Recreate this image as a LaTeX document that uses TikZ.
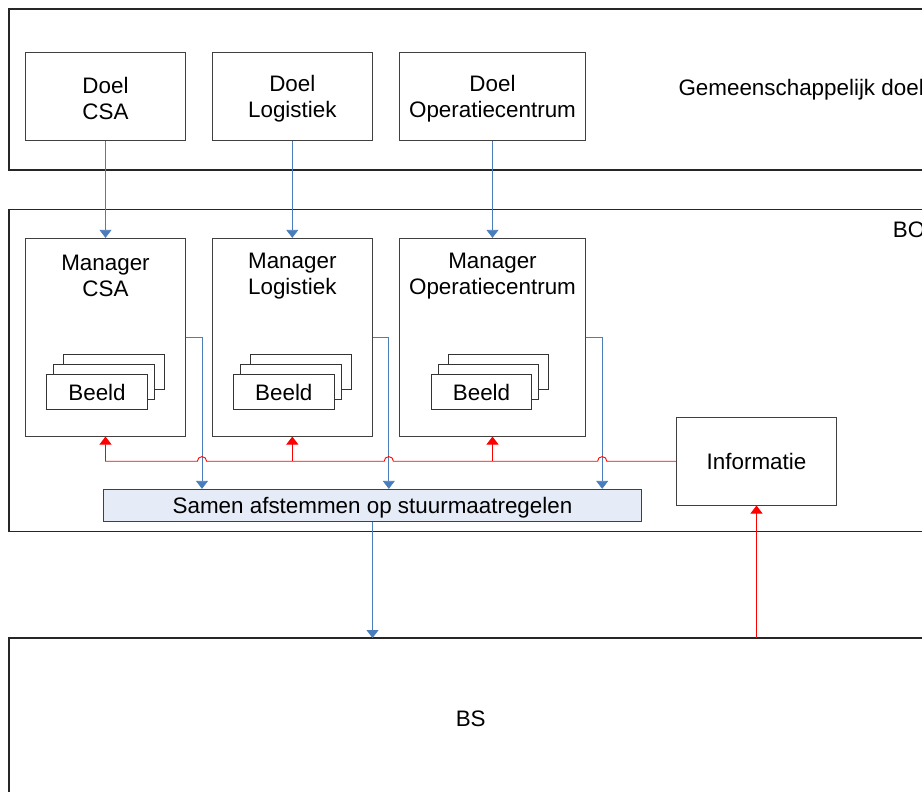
\documentclass[tikz,border=0pt]{standalone}
\usepackage{fontspec}
\setmainfont{Liberation Sans}
\usetikzlibrary{arrows.meta,calc}
\definecolor{flowblue}{RGB}{74,126,187}
\definecolor{boxline}{RGB}{64,64,64}
\definecolor{samenfill}{RGB}{230,236,247}
\begin{document}
\begin{tikzpicture}[x=1pt,y=-1pt,
  every node/.style={font=\fontsize{22.4}{26.2}\selectfont, inner sep=0pt},
  container/.style={draw=black!85, line width=1.3pt},
  block/.style={draw=boxline, line width=1pt, fill=white, align=center},
  sheet/.style={draw=black!80, line width=0.9pt, fill=white, minimum width=100.6pt, minimum height=34.6pt},
  bluearrow/.style={draw=flowblue, line width=0.8pt, -{Triangle[width=12pt,length=8pt]}},
  redarrow/.style={draw=red, line width=0.9pt, -{Triangle[width=12pt,length=8pt]}}]
\useasboundingbox (0,0) rectangle (922,792);

% three layers
\draw[container] (9,9) rectangle (940,170);
\draw[container] (9,209.5) rectangle (940,531.5);
\draw[container] (9,638) rectangle (940,810);
\coordinate (bstop) at (470,638);
\node (gemeen) [anchor=west] at (678.3,89.3) {Gemeenschappelijk doel};
\node (bo) [anchor=west] at (892.7,229.3) {BO};
\node (bs) at (470.7,718.3) {BS};

% goals
\node (dcsa) [block, minimum width=160.4pt, minimum height=87.7pt] at (105.5,96.2) {};
\node (dlog) [block, minimum width=160pt, minimum height=87.7pt] at (292.3,96.2) {};
\node (dop)  [block, minimum width=186.4pt, minimum height=87.7pt] at (492.5,96.2) {};
\node (tdcsa) [align=center] at ($(dcsa)+(0,2.6)$) {Doel\\CSA};
\node (tdlog) [align=center] at ($(dlog)+(0,2.6)$) {Doel\\Logistiek};
\node (tdop)  [align=center] at ($(dop)+(0,2.6)$) {Doel\\Operatiecentrum};

% managers
\node (mcsa) [block, minimum width=160.4pt, minimum height=197.7pt] at (105.5,337.2) {};
\node (mlog) [block, minimum width=160pt, minimum height=197.7pt] at (292.3,337.2) {};
\node (mop)  [block, minimum width=186.4pt, minimum height=197.7pt] at (492.5,337.2) {};
\node (tcsa) [align=center] at (105.5,275.8) {Manager\\CSA};
\node (tlog) [align=center] at (292.3,275.8) {Manager\\Logistiek};
\node (top)  [align=center] at (492.5,275.8) {Manager\\Operatiecentrum};

% stacked pictures inside each manager
\foreach \cx/\nm in {97/a, 283.8/b, 481.5/c}{
  \node (\nm3) [sheet] at (\cx+17,372.2) {};
  \node (\nm2) [sheet] at (\cx+7,382.2) {};
  \node (\nm1) [sheet] at (\cx,392.2) {Beeld};
}

% shared coordination and information
\node (samen) [block, fill=samenfill, minimum width=537.6pt, minimum height=31.7pt] at (372.5,505.2) {};
\node (tsamen) at ($(samen)+(0,2.6)$) {Samen afstemmen op stuurmaatregelen};
\node (info) [block, minimum width=160.4pt, minimum height=87.7pt] at (756.5,461.2) {Informatie};

% goals to managers
\draw[bluearrow] (dcsa.south) -- (mcsa.north);
\draw[bluearrow] (dlog.south) -- (mlog.north);
\draw[bluearrow] (dop.south) -- (mop.north);

% managers to coordination
\draw[bluearrow] (mcsa.east) -- ++(15.8,0) coordinate (drop1) -- (drop1 |- samen.north);
\draw[bluearrow] (mlog.east) -- ++(16,0) coordinate (drop2) -- (drop2 |- samen.north);
\draw[bluearrow] (mop.east) -- ++(16,0) coordinate (drop3) -- (drop3 |- samen.north);

% coordination down to BS
\draw[bluearrow] (samen.south) -- (samen.south |- bstop);

% information up from BS and out to the managers, hopping over the blue lines
\draw[redarrow] (info.south |- bstop) -- (info.south);
\coordinate (bus) at (info.west);
\draw[redarrow] (info.west)
  -- ($(drop3 |- bus)+(4.6,0)$) arc[start angle=0, end angle=180, radius=4.6pt]
  -- ($(drop2 |- bus)+(4.6,0)$) arc[start angle=0, end angle=180, radius=4.6pt]
  -- ($(drop1 |- bus)+(4.6,0)$) arc[start angle=0, end angle=180, radius=4.6pt]
  -- (mcsa.south |- bus) -- (mcsa.south);
\draw[redarrow] (mlog.south |- bus) -- (mlog.south);
\draw[redarrow] (mop.south |- bus) -- (mop.south);
\end{tikzpicture}
\end{document}
